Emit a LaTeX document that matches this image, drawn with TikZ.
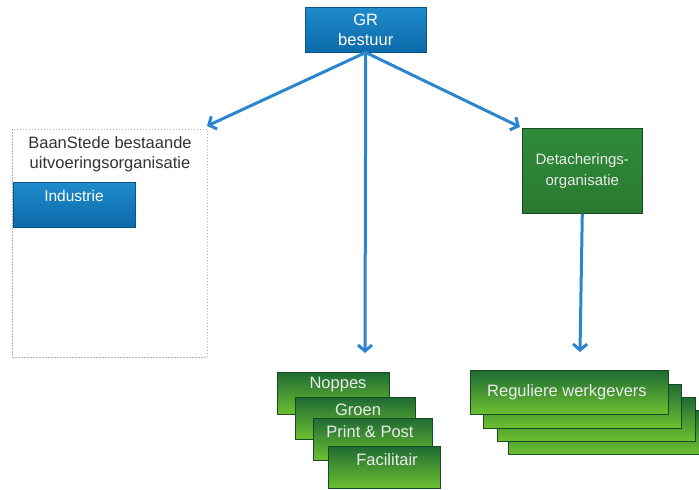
\documentclass[tikz,border=0pt]{standalone}
\usepackage{fontspec}
\setmainfont{Liberation Sans}
\usetikzlibrary{arrows.meta,shadows}
\definecolor{arrowblue}{HTML}{2B86CF}
\definecolor{bluetop}{HTML}{1F8BCB}
\definecolor{bluebot}{HTML}{0C6AAA}
\definecolor{greentop}{HTML}{1F6B34}
\definecolor{greenbot}{HTML}{6DC030}
\definecolor{detgreen}{HTML}{2F8A3A}
\definecolor{detgreenbot}{HTML}{2A7A30}
\definecolor{labelgray}{HTML}{333333}
\tikzset{
  bluebox/.style={draw=bluebot!80!black, line width=0.5pt, top color=bluetop, bottom color=bluebot, text=white, inner sep=0pt, anchor=north west},
  greenbox/.style={draw=greentop!70!black, line width=0.6pt, top color=greentop, bottom color=greenbot, inner sep=0pt, anchor=north west, drop shadow={shadow xshift=1pt, shadow yshift=-1pt, opacity=0.35}},
  detbox/.style={draw=greentop!70!black, line width=0.6pt, top color=detgreen, bottom color=detgreenbot, text=white!92!black, font=\fontsize{15}{21}\selectfont, inner sep=0pt, anchor=north west, align=center, drop shadow={shadow xshift=1pt, shadow yshift=-1pt, opacity=0.35}},
  boxtext/.style={text=white!92!black, font=\fontsize{16.5}{18}\selectfont},
  conn/.style={draw=arrowblue, line width=3pt, -{Straight Barb[length=6pt,width=14pt,line width=3pt]}},
  dashbox/.style={draw=gray!60, line width=0.6pt, dash pattern=on 1.5pt off 1.5pt},
}
\begin{document}
\begin{tikzpicture}[x=1pt,y=-1pt]
\useasboundingbox (0,0) rectangle (699,490);
% dashed container
\node[dashbox, minimum width=195pt, minimum height=228pt, anchor=north west, inner sep=0pt] (bs) at (12,129) {};
\node[text=labelgray, font=\fontsize{16.5}{20}\selectfont, align=center, anchor=north] (bstitle) at (110,133) {BaanStede bestaande\\uitvoeringsorganisatie};
\node[bluebox, minimum width=122pt, minimum height=45pt] (ind) at (13,182) {};
\node[text=white, font=\fontsize{15.5}{17}\selectfont] (indt) at (74,196) {Industrie};
% GR
\node[bluebox, minimum width=121pt, minimum height=45pt, align=center, font=\fontsize{16.5}{20}\selectfont] (gr) at (305,7) {GR\\bestuur};
% Detacherings
\node[detbox, minimum width=120pt, minimum height=85pt] (det) at (522,128) {Detacherings-\\organisatie};
% right stack
\node[greenbox, minimum width=198pt, minimum height=44pt] (r4) at (508,410) {};
\node[greenbox, minimum width=198pt, minimum height=44pt] (r3) at (497,397) {};
\node[greenbox, minimum width=198pt, minimum height=44pt] (r2) at (483,384) {};
\node[greenbox, minimum width=198pt, minimum height=44pt] (r1) at (470,370) {};
\node[boxtext] (r1t) at (567,392) {Reguliere werkgevers};
% left stack
\node[greenbox, minimum width=112pt, minimum height=42pt] (n1) at (277,372) {};
\node[boxtext] (n1t) at (338,385) {Noppes};
\node[greenbox, minimum width=120pt, minimum height=42pt] (n2) at (295,397) {};
\node[boxtext] (n2t) at (358,410) {Groen};
\node[greenbox, minimum width=119pt, minimum height=42pt] (n3) at (313,418) {};
\node[boxtext] (n3t) at (370,432) {Print \& Post};
\node[greenbox, minimum width=112pt, minimum height=42pt] (n4) at (328,446) {};
\node[boxtext] (n4t) at (387,460) {Facilitair};
% connectors
\coordinate (midend) at (365,353);
\coordinate (lend) at (207,126);
\coordinate (rend) at (520,127);
\draw[conn] (gr.south) -- (lend);
\draw[conn] (gr.south) -- (rend);
\draw[conn] (gr.south) -- (midend);
\coordinate (detend) at (580,352);
\draw[conn] (det.south) -- (detend);
\end{tikzpicture}
\end{document}
